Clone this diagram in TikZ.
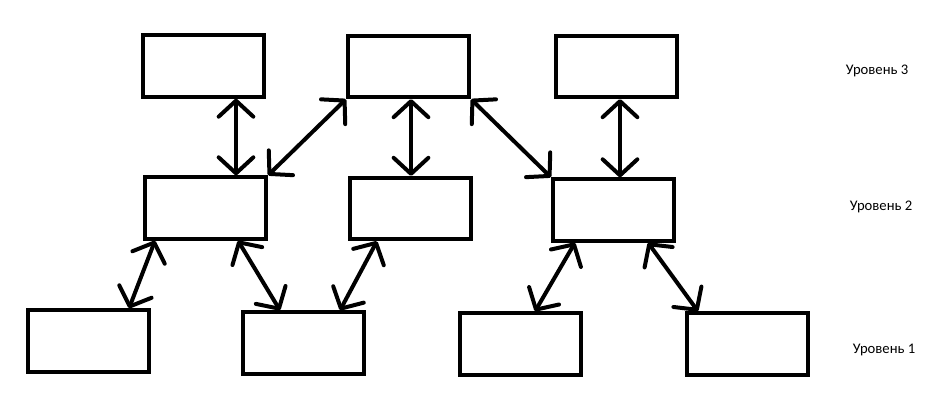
\documentclass[tikz,border=0pt]{standalone}
\usepackage{fontspec}
\setmainfont{Carlito}
\usetikzlibrary{arrows.meta,calc}
\tikzset{
  box/.style={draw=black, line width=3pt, minimum width=90.75pt, minimum height=46pt, inner sep=0pt, fill=white},
  link/.style={line width=3pt, line cap=round, {Straight Barb[length=12pt,width=26pt,round]}-{Straight Barb[length=12pt,width=26pt,round]}},
  lvl/.style={font=\fontsize{11pt}{13pt}\selectfont, inner sep=0pt}
}
\begin{document}
\begin{tikzpicture}[x=0.75pt,y=-0.75pt]
\useasboundingbox (0,0) rectangle (935,407);
% level 3
\node[box] (A3) at (203,66) {};
\node[box] (B3) at (408.5,66.5) {};
\node[box] (C3) at (616.5,66.5) {};
% level 2
\node[box] (A2) at (205.5,208) {};
\node[box] (B2) at (410,208.5) {};
\node[box] (C2) at (613.5,210) {};
% level 1
\node[box] (A1) at (88.5,341) {};
\node[box] (B1) at (303.5,343) {};
\node[box] (C1) at (520.5,344) {};
\node[box] (D1) at (747.5,344) {};
% labels
\node[lvl] (L3) at (877,71) {Уровень 3};
\node[lvl] (L2) at (881,207) {Уровень 2};
\node[lvl] (L1) at (884,350) {Уровень 1};
% connectors
\draw[link] ($(A3.south)+(33,0)$) -- ($(A2.north)+(30.5,0)$);
\draw[link] (A2.north east) -- (B3.south west);
\draw[link] ($(B3.south)+(2.5,0)$) -- ($(B2.north)+(1,0)$);
\draw[link] (B3.south east) -- (C2.north west);
\draw[link] ($(C3.south)+(3.5,0)$) -- ($(C2.north)+(6.5,0)$);
\draw[link] ($(A2.south)+(-50.5,0)$) -- ($(A1.north)+(40.5,0)$);
\draw[link] ($(A2.south)+(32.5,0)$) -- ($(B1.north)+(-23.5,0)$);
\draw[link] ($(B2.south)+(-33,0)$) -- ($(B1.north)+(36.5,0)$);
\draw[link] ($(C2.south)+(-38.5,0)$) -- ($(C1.north)+(14.5,0)$);
\draw[link] ($(C2.south)+(34.5,0)$) -- ($(D1.north)+(-49.5,0)$);
\end{tikzpicture}
\end{document}
